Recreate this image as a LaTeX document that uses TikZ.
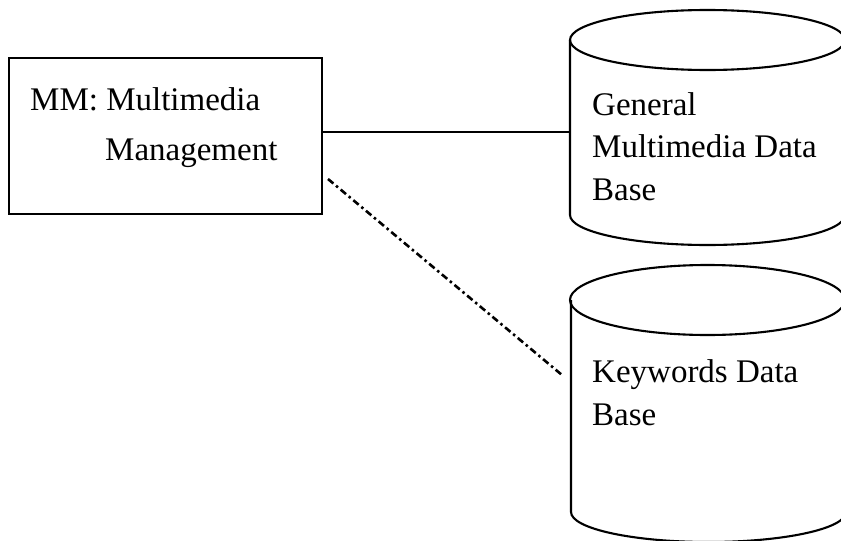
\documentclass[tikz,border=0pt]{standalone}
\usepackage{fontspec}
\setmainfont{Liberation Serif}
\begin{document}
\begin{tikzpicture}[x=1pt,y=-1pt,
  outline/.style={line width=2.1pt, black},
  label/.style={anchor=base west, inner sep=0pt, font=\fontsize{33}{43}\selectfont},
  link/.style={line width=1.9pt, black},
  dashdot/.style={line width=2.6pt, black, dash pattern=on 7pt off 3.5pt on 2.5pt off 3.5pt}]
\useasboundingbox (0,0) rectangle (841,541);
\clip (0,0) rectangle (841,541);

% management module
\node[outline, draw, anchor=north west, inner sep=0pt,
      minimum width=313pt, minimum height=156pt] (mm) at (8,57) {};
\node[label] (mm1) at (30,110) {MM: Multimedia};
\node[label] (mm2) at (105,160) {Management};

% general multimedia data base
\draw[outline] (707.5,40) ellipse [x radius=137.5, y radius=30];
\draw[outline] (570,40) -- (570,215) arc[start angle=180, end angle=0, x radius=137.5, y radius=30] -- (845,40);
\node[inner sep=0pt, anchor=north west, minimum width=275pt, minimum height=175pt] (gdb) at (570,40) {};
\node[label] (g1) at (592,115) {General};
\node[label] (g2) at (592,157) {Multimedia Data};
\node[label] (g3) at (592,200) {Base};

% keywords data base
\draw[outline] (707.5,300) ellipse [x radius=137.5, y radius=35];
\draw[outline] (571,300) -- (571,512) arc[start angle=180, end angle=0, x radius=137.5, y radius=30] -- (846,300);
\node[inner sep=0pt, anchor=north west, minimum width=275pt, minimum height=212pt] (kdb) at (571,300) {};
\node[label] (k1) at (592,382) {Keywords Data};
\node[label] (k2) at (592,425) {Base};

% connectors
\draw[link] (mm.east |- 0,132) -- (gdb.west |- 0,132);
\coordinate (dstart) at (328,179);
\coordinate (dend) at (562,375);
\draw[dashdot] (dstart) -- (dend);
\end{tikzpicture}
\end{document}
